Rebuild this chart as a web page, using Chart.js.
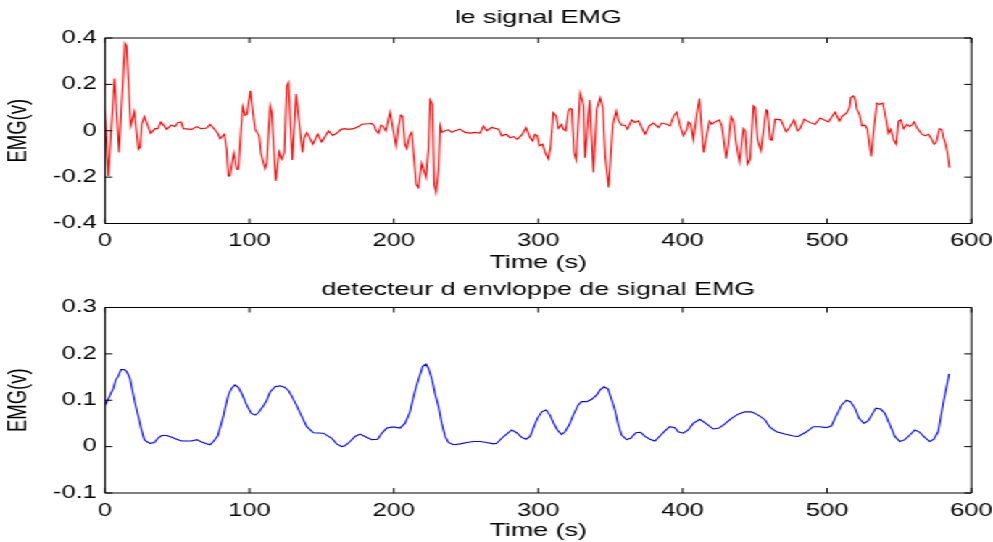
<!DOCTYPE html>
<html><head><meta charset="utf-8">
<script src="https://cdn.jsdelivr.net/npm/chart.js@4.4.0/dist/chart.umd.min.js"></script>
<style>
html,body{margin:0;padding:0;background:#fff;overflow:hidden;width:993px;height:542px;}
#wrap{position:absolute;left:0;top:0;width:685px;height:542px;transform:scaleX(1.449635);transform-origin:0 0;}
#c1{position:absolute;left:0;top:0;}
#c2{position:absolute;left:0;top:271px;}
</style></head><body>
<div id="wrap"><canvas id="c1" width="685" height="276"></canvas><canvas id="c2" width="685" height="271"></canvas></div>
<script>
// ---- data ----
const emgTime = [0,2.3,6.5,9.7,13.8,14.9,17.8,20.3,23.1,24.2,25.4,27.2,31.6,34.6,36.5,38.8,42.7,45.7,48.5,50.3,52.6,54.3,60,63.5,66.5,70.4,72.7,75,78,79.6,82.6,84.2,85.4,86.5,89.1,91.2,92.3,95.3,96.9,98.3,100.6,103.9,106.7,108.1,110.8,112,114.3,115.4,118.2,120.5,122.3,124.2,125.8,127,129.7,132.3,133.4,136.7,138,139.7,142,143.8,147.3,150,154.7,157.6,160.4,163.4,166.2,168.5,172,175.5,177.7,184.7,186.5,187.4,189.3,191.1,192.7,194.4,197.3,
201.5,203,204.7,206.1,207.7,208.9,210.8,212.3,214.2,215.4,217,219.3,222.3,223.9,225.1,226.7,227.9,229.2,230.9,232,233.2,235.5,237.8,240.1,242.4,245.8,249.3,252.8,256.2,259.7,262,264.3,267.7,272.4,274.7,277.7,280.5,282.8,285.5,288.5,291.5,294.3,296.1,297.7,299.3,300.7,303,304.7,307,308.6,310.4,312.3,313.9,316.2,317.4,319,320.9,322,323.2,324.8,326.2,329,331.3,332.4,335.5,338.2,340.5,342.8,344.7,346.3,348.7,350.2,351.6,353.9,355.5,357.8,360.1,361.7,364.7,367,369.3,371.6,373.9,376.9,379.7,383.1,385.4,388.9,391.2,393.6,395.9,
398.2,400.5,402.8,404,405.6,407.4,409.7,411.6,414.4,416.7,418.5,420.1,422.4,425.4,427.1,430.1,431.7,433.5,435.1,437,439.3,442.1,443.2,444.8,446.7,449,450.1,451.8,454.1,457.8,458.7,460.5,461.7,464,467.9,471.6,473.9,477.1,479.5,481.3,484.1,488.2,491.7,495.2,500.9,505.5,508.5,510.2,513.6,515.5,516.4,518.2,519.4,520.5,522.4,524,526.3,527.9,530.5,532.1,534.4,536.2,538.6,540.2,542.5,544.1,545.9,547.8,549.4,551,552.9,555.2,557,558.6,560.2,562.1,565.6,567.9,570.2,571.8,574.1,575.5,577.8,579.4,580.6,581.7,583.3,584.7];
const emgValues = [0.093,-0.195,0.225,-0.094,0.377,0.366,0.021,0.081,-0.08,-0.072,0.028,0.061,-0.011,0.009,0.009,0.038,0.006,0.024,0.018,0.035,0.038,0.009,0.006,0.018,0.009,0.012,0.028,0.012,-0.011,-0.034,-0.015,-0.08,-0.195,-0.195,-0.097,-0.166,-0.166,0.104,0.067,0.071,0.172,0.006,-0.022,-0.101,-0.163,-0.137,0.107,0.078,-0.216,-0.091,-0.122,-0.094,0.193,0.208,-0.126,0.158,0.093,-0.094,-0.03,-0.008,-0.034,-0.058,-0.015,-0.048,-0.001,-0.02,-0.011,0.006,0.009,0.006,0.009,0.018,0.028,0.031,0.021,0.003,-0.011,0.024,0.018,-0.001,0.081,
-0.065,0.008,0.067,0.061,-0.058,-0.077,-0.022,-0.007,-0.137,-0.231,-0.245,-0.14,-0.202,-0.08,0.133,0.114,-0.231,-0.266,-0.166,0.021,-0.007,0,0.004,-0.007,0,0.007,-0.007,-0.01,-0.007,-0.01,0.021,0,0.014,0.007,-0.022,-0.015,-0.03,-0.025,-0.036,-0.019,0.014,-0.03,-0.044,-0.015,-0.022,-0.065,-0.058,-0.094,-0.122,-0.065,0.078,0.064,0.01,0.028,0.007,0,0.086,0.096,0.093,-0.094,-0.126,0.162,0.11,-0.116,0.133,-0.18,0.093,0.143,0.1,-0.108,-0.245,-0.108,0.028,0.086,0.043,0.024,0.024,0.007,0.047,0.036,0.043,0.014,-0.015,0.021,0.033,0.014,0.033,0.028,0.021,0.061,0.081,
0.021,-0.022,0.006,0.038,0.028,-0.04,0.071,0.139,-0.094,-0.015,0.042,0.028,0.038,0.047,0.021,-0.12,-0.051,0.061,0.042,-0.051,-0.134,0.009,0,-0.144,-0.123,0.107,0.1,-0.037,-0.087,0.09,0.086,-0.037,-0.04,0.05,0.047,-0.005,0.014,0.047,0,0.009,0.05,0.035,0.028,0.055,0.038,0.081,0.042,0.061,0.078,0.1,0.143,0.15,0.136,0.093,0.071,0.021,0.024,0.006,-0.111,-0.007,0.119,0.114,0.119,0.071,-0.011,0.006,-0.037,-0.058,0.042,0.047,0.009,0.028,0.018,0.024,0.038,0.014,-0.015,-0.022,-0.015,-0.03,-0.058,-0.051,0.009,0.004,-0.03,-0.051,-0.094,-0.159];

const envTime = [0,1.8,3.5,5.8,7.4,9.2,11.1,13.4,15,17.3,18.9,20.8,23.1,24.9,27.2,28.9,31.2,34.2,36.5,39.2,42.7,46.2,49.6,53.1,60,63.5,66.9,70.4,72.7,75,78,79.6,81.9,83.1,85.4,87.7,90,92.3,94.6,98.1,101.1,103.9,106.2,109.7,112,114.3,117.8,121.2,124.2,127,129.3,132.8,135.8,139.7,144.3,151.2,157,160.4,163.9,166.2,169.7,173.1,176.6,180,184.7,188.8,191.6,195.1,198.5,
200.8,204.3,207.7,211.2,213,215.4,217.7,220,222.3,223.9,226.2,228.5,230.9,233.2,235.5,237.8,241.3,245.9,250.5,255.1,259.7,264.3,268.9,271.2,274.7,278.1,281.6,285,288.5,291.5,294.3,296.6,299.4,302.4,305.4,308.1,310.4,313.2,316.2,318.5,321.5,324.2,327.7,330,333.5,337,340.4,342.7,345.5,348.4,350.1,353.1,355.4,357.7,361.2,363.9,367.6,370.8,373.9,377.3,380.8,384.2,
387.7,391.1,394.6,396.9,400.4,403.8,407.3,411.9,416.5,421.1,425.2,429.2,433.8,438.4,443,447.7,452.3,456.9,460.4,465,470.8,476.5,480,485.8,490.4,495,499.6,503.1,505.4,507.7,510,513.5,516.2,519.2,522.2,525.5,528.5,530.8,533.8,537,540,543.5,546.9,550.4,553.8,557.3,560.7,563.7,567.6,571.1,573.9,576.9,579.2,580.8,584.5];
const envValues = [0.088,0.1,0.111,0.126,0.144,0.152,0.166,0.166,0.162,0.147,0.122,0.094,0.065,0.04,0.015,0.011,0.007,0.009,0.018,0.024,0.024,0.02,0.016,0.012,0.012,0.015,0.01,0.006,0.004,0.011,0.023,0.04,0.065,0.082,0.111,0.126,0.133,0.128,0.115,0.09,0.072,0.068,0.073,0.088,0.1,0.118,0.129,0.131,0.128,0.121,0.109,0.088,0.068,0.043,0.03,0.029,0.018,0.006,0,0.002,0.011,0.022,0.027,0.022,0.015,0.016,0.029,0.04,0.042,
0.042,0.04,0.05,0.075,0.1,0.129,0.151,0.173,0.178,0.169,0.147,0.115,0.086,0.05,0.022,0.009,0.004,0.006,0.009,0.011,0.011,0.009,0.006,0.007,0.018,0.027,0.036,0.03,0.02,0.016,0.022,0.04,0.061,0.075,0.079,0.068,0.052,0.036,0.026,0.032,0.047,0.068,0.09,0.097,0.097,0.102,0.111,0.122,0.129,0.124,0.108,0.079,0.047,0.025,0.015,0.018,0.03,0.031,0.022,0.016,0.012,0.023,
0.034,0.043,0.041,0.032,0.029,0.036,0.05,0.059,0.049,0.038,0.04,0.049,0.061,0.07,0.075,0.075,0.068,0.058,0.042,0.032,0.027,0.023,0.022,0.032,0.043,0.043,0.041,0.045,0.061,0.075,0.09,0.1,0.097,0.083,0.061,0.05,0.056,0.068,0.083,0.081,0.072,0.047,0.022,0.011,0.015,0.025,0.036,0.032,0.02,0.011,0.016,0.032,0.072,0.1,0.157];

const xTicks = [0,100,200,300,400,500,600];
const yTicks1 = [-0.4,-0.2,0,0.2,0.4];
const yTicks2 = [-0.1,0,0.1,0.2,0.3];

// ---- layout ----
const S = 993 / 685;
const W = 685;
const FONT = "'Liberation Sans', Arial, Helvetica, sans-serif";
const FS = 17.5;      // tick labels
const FT = 18.5;      // titles
const LH = FT * 1.2;
const plotLeft = 105 / S, plotRight = 971.5 / S;
const TL = 5;

const boxTicks = {
  id: 'boxTicks',
  afterDatasetsDraw(chart) {
    const {ctx, chartArea: {left, right, top, bottom}, scales: {x, y}} = chart;
    ctx.save();
    ctx.strokeStyle = '#000';
    ctx.lineWidth = 1;
    ctx.beginPath();
    ctx.rect(left, top, right - left, bottom - top);
    x.ticks.forEach(t => {
      const px = x.getPixelForValue(t.value);
      ctx.moveTo(px, bottom); ctx.lineTo(px, bottom - TL);
      ctx.moveTo(px, top); ctx.lineTo(px, top + TL);
    });
    y.ticks.forEach(t => {
      const py = y.getPixelForValue(t.value);
      ctx.moveTo(left, py); ctx.lineTo(left + TL, py);
      ctx.moveTo(right, py); ctx.lineTo(right - TL, py);
    });
    ctx.stroke();
    ctx.restore();
  }
};

function makeChart(id, cfg) {
  const tickFont = {family: FONT, size: FS, weight: 'normal', lineHeight: 1.2};
  const titleFont = {family: FONT, size: FT, weight: 'normal', lineHeight: 1.2};
  return new Chart(document.getElementById(id), {
    type: 'line',
    data: {datasets: [{
      data: cfg.t.map((v, i) => ({x: v, y: cfg.v[i]})),
      borderColor: cfg.color, borderWidth: 1.1, pointRadius: 0, tension: 0, fill: false
    }]},
    options: {
      responsive: false, animation: false, devicePixelRatio: 1,
      layout: {padding: {left: 0, right: W - plotRight, top: 0, bottom: 0}},
      plugins: {legend: {display: false}, tooltip: {enabled: false}, title: {display: false}},
      scales: {
        xt: {
          type: 'linear', min: 0, max: 600, position: 'top',
          grid: {display: false, drawTicks: false}, border: {display: false},
          ticks: {display: false},
          afterFit: s => { s.height = cfg.plotTop; s.paddingLeft = 0; s.paddingRight = 0; },
          title: {display: true, text: cfg.title, color: '#000', font: titleFont,
                  padding: {top: cfg.titleCenter - LH / 2, bottom: 0}}
        },
        x: {
          type: 'linear', min: 0, max: 600, position: 'bottom',
          grid: {display: false, drawTicks: false}, border: {display: false},
          ticks: {color: '#000', font: tickFont, padding: cfg.xPad, autoSkip: false, maxRotation: 0},
          afterBuildTicks: s => { s.ticks = xTicks.map(v => ({value: v})); },
          afterFit: s => { s.height = cfg.xHeight; s.paddingLeft = 0; s.paddingRight = 0; },
          title: {display: true, text: 'Time (s)', color: '#000', font: titleFont,
                  padding: {top: 0, bottom: cfg.xTitlePad}}
        },
        y: {
          type: 'linear', min: cfg.yMin, max: cfg.yMax,
          grid: {display: false, drawTicks: false}, border: {display: false},
          ticks: {color: '#000', font: tickFont, padding: 5.7, callback: v => String(Math.round(v * 10) / 10)},
          afterBuildTicks: s => { s.ticks = cfg.yTicks.map(v => ({value: v})); },
          afterFit: s => { s.width = plotLeft; s.paddingTop = 0; s.paddingBottom = 0; },
          title: {display: true, text: 'EMG(v)', color: '#000', font: titleFont,
                  padding: {top: 18 / S - LH / 2, bottom: 0}}
        }
      }
    },
    plugins: [boxTicks]
  });
}

makeChart('c1', {
  t: emgTime, v: emgValues, color: '#ff0000', title: 'le signal EMG',
  plotTop: 38, titleCenter: 18,
  xPad: 7.5, xHeight: 276 - 223.5, xTitlePad: 13 - LH / 2,
  yMin: -0.4, yMax: 0.4, yTicks: yTicks1
});
makeChart('c2', {
  t: envTime, v: envValues, color: '#0000ff', title: 'detecteur d envloppe de signal EMG',
  plotTop: 36.5, titleCenter: 19,
  xPad: 7.5, xHeight: 271 - 222, xTitlePad: 11 - LH / 2,
  yMin: -0.1, yMax: 0.3, yTicks: yTicks2
});
</script>
</body></html>
